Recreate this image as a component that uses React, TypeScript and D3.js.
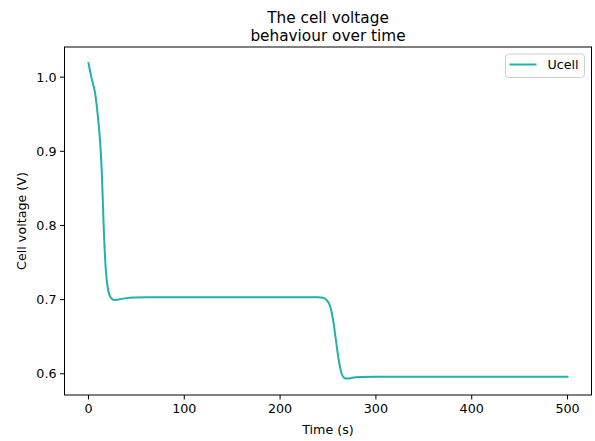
import React from "react";
import * as d3 from "d3";

const timeValues = [0, 3, 7, 10, 12, 14, 16, 18, 20, 22, 25, 27, 30, 35, 40, 50, 60, 100, 200, 240, 245, 248, 252, 255, 258, 261, 264, 267, 270, 275, 285, 300, 400, 500];
const voltageValues = [1.019, 1.0, 0.978, 0.945, 0.916, 0.87, 0.795, 0.742, 0.717, 0.706, 0.7005, 0.6995, 0.6998, 0.701, 0.702, 0.7028, 0.7031, 0.7032, 0.7032, 0.7031, 0.7025, 0.7, 0.692, 0.675, 0.648, 0.62, 0.601, 0.5945, 0.5935, 0.5945, 0.5955, 0.596, 0.596, 0.596];
const xTicks = [0, 100, 200, 300, 400, 500];
const yTicks = [0.6, 0.7, 0.8, 0.9, 1.0];
const seriesName = "Ucell";
const titleLines = ["The cell voltage", "behaviour over time"];
const xLabel = "Time (s)";
const yLabel = "Cell voltage (V)";

const W = 595, H = 441;
const L = 64.5, R = 591.5, T = 47, B = 395;
const FONT = "DejaVu Sans, sans-serif";
const LINE_COLOR = "#20b2aa";

export default function App() {
  const x = d3.scaleLinear().domain([-25, 525]).range([L, R]);
  const y = d3.scaleLinear().domain([0.57135, 1.04065]).range([B, T]);
  const pts: [number, number][] = timeValues.map((t, i) => [t, voltageValues[i]]);
  const line = d3.line<[number, number]>().x(d => x(d[0])).y(d => y(d[1])).curve(d3.curveMonotoneX);
  return (
    <svg width={W} height={H} style={{ position: "absolute", left: 0, top: 0 }} fontFamily={FONT}>
      <rect x={0} y={0} width={W} height={H} fill="#fff" />
      <text textAnchor="middle" x={(L + R) / 2} y={23} fontSize={15.3}>{titleLines[0]}</text>
      <text textAnchor="middle" x={(L + R) / 2} y={41} fontSize={15.3}>{titleLines[1]}</text>
      <path d={line(pts) || ""} fill="none" stroke={LINE_COLOR} strokeWidth={2} strokeLinejoin="round" strokeLinecap="square" />
      <rect x={L} y={T} width={R - L} height={B - T} fill="none" stroke="#000" strokeWidth={1} />
      {xTicks.map(t => (
        <g key={"x" + t}>
          <line x1={x(t)} x2={x(t)} y1={B} y2={B + 4.5} stroke="#000" strokeWidth={1} />
          <text x={x(t)} y={B + 18} textAnchor="middle" fontSize={12.7}>{t}</text>
        </g>
      ))}
      {yTicks.map(v => (
        <g key={"y" + v}>
          <line x1={L - 4.5} x2={L} y1={y(v)} y2={y(v)} stroke="#000" strokeWidth={1} />
          <text x={L - 8} y={y(v) + 4.5} textAnchor="end" fontSize={12.7}>{v.toFixed(1)}</text>
        </g>
      ))}
      <text x={(L + R) / 2} y={434} textAnchor="middle" fontSize={12.7}>{xLabel}</text>
      <text transform={`translate(26,${(T + B) / 2}) rotate(-90)`} textAnchor="middle" fontSize={12.7}>{yLabel}</text>
      <g>
        <rect x={505.5} y={54} width={79} height={23.5} rx={3} fill="#fff" fillOpacity={0.8} stroke="#d0d0d0" strokeWidth={1} />
        <line x1={509.5} x2={536.5} y1={64.5} y2={64.5} stroke={LINE_COLOR} strokeWidth={2} />
        <text x={547.5} y={69} fontSize={12.7}>{seriesName}</text>
      </g>
    </svg>
  );
}
